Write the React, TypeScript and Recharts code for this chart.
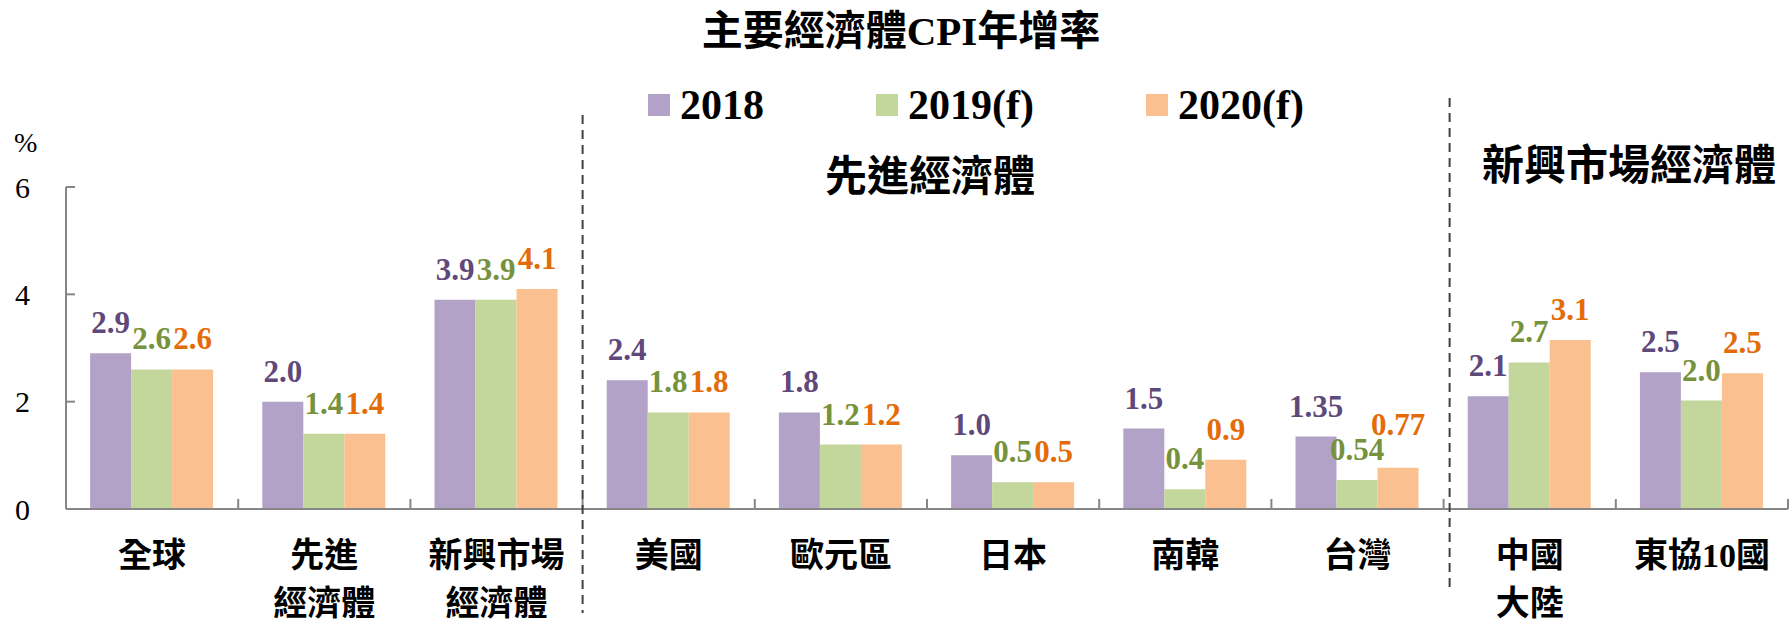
import React from 'react';
import { BarChart, Bar, XAxis, YAxis, LabelList } from 'recharts';

const categories = ['全球', '先進\n經濟體', '新興市場\n經濟體', '美國', '歐元區', '日本', '南韓', '台灣', '中國\n大陸', '東協10國'];
const v2018 = [2.9, 2.0, 3.9, 2.4, 1.8, 1.0, 1.5, 1.35, 2.1, 2.55];
const v2019 = [2.6, 1.4, 3.9, 1.8, 1.2, 0.5, 0.37, 0.54, 2.73, 2.02];
const v2020 = [2.6, 1.4, 4.1, 1.8, 1.2, 0.5, 0.92, 0.77, 3.15, 2.53];
const l2018 = ['2.9', '2.0', '3.9', '2.4', '1.8', '1.0', '1.5', '1.35', '2.1', '2.5'];
const l2019 = ['2.6', '1.4', '3.9', '1.8', '1.2', '0.5', '0.4', '0.54', '2.7', '2.0'];
const l2020 = ['2.6', '1.4', '4.1', '1.8', '1.2', '0.5', '0.9', '0.77', '3.1', '2.5'];
const seriesNames = ['2018', '2019(f)', '2020(f)'];
const yTicks = [0, 2, 4, 6];
const titleText = '主要經濟體CPI年增率';
const unitText = '%';
const groupTitles = ['先進經濟體', '新興市場經濟體'];
// index of category after which a dashed divider is drawn
const dividerAfter = [2, 7];

const W = 1789;
const H = 620;
const PLOT_LEFT = 66;
const PLOT_RIGHT_MARGIN = 1;
const PLOT_TOP = 187;
const PLOT_BOTTOM = 509;
const BAND = (W - PLOT_LEFT - PLOT_RIGHT_MARGIN) / categories.length;
const DIVIDER_SPANS = [
  [115, 613],
  [98, 592],
];
const DIVIDER_SHIFT = [0, 6];
const LABEL_OFFSET = 20;
// extra upward shift (px) of the 2020 label for the Taiwan group (index 7) to avoid overlap
const LIFT_2020_INDEX = 7;
const LIFT_2020_PX = 13;

const FONT = "'Liberation Serif', 'Noto Sans CJK TC', serif";
const FILL = ['#B3A2C7', '#C3D69B', '#FAC090'];
const LABEL_COLORS = ['#5F497A', '#76923C', '#E36C09'];
const AXIS = '#868686';

const data = categories.map((name, i) => ({
  name,
  a: v2018[i],
  b: v2019[i],
  c: v2020[i],
  la: l2018[i],
  lb: l2019[i],
  lc: l2020[i],
}));

const XTick = (props: any) => {
  const { x, y, payload, index } = props;
  const lines = String(payload.value).split('\n');
  const dIdx = dividerAfter.indexOf(index);
  const bx = x + BAND / 2;
  return (
    <g>
      <line x1={bx} x2={bx} y1={y} y2={y - 10} stroke={AXIS} strokeWidth={2} />
      {dIdx >= 0 && (
        <line
          x1={bx + DIVIDER_SHIFT[dIdx]}
          x2={bx + DIVIDER_SHIFT[dIdx]}
          y1={DIVIDER_SPANS[dIdx][0]}
          y2={DIVIDER_SPANS[dIdx][1]}
          stroke="#404040"
          strokeWidth={2}
          strokeDasharray="9 6"
        />
      )}
      {lines.map((t: string, i: number) => (
        <text
          key={i}
          x={x}
          y={y + 46 + i * 48}
          textAnchor="middle"
          dominantBaseline="central"
          fontFamily={FONT}
          fontWeight={700}
          fontSize={34}
          fill="#000"
        >
          {t}
        </text>
      ))}
    </g>
  );
};

const YTick = (props: any) => {
  const { x, y, payload } = props;
  return (
    <g>
      <text x={x} y={y} textAnchor="end" dominantBaseline="central" fontFamily={FONT} fontSize={30} fill="#000">
        {payload.value}
      </text>
      {payload.value !== 0 && (
        <line x1={PLOT_LEFT} x2={PLOT_LEFT + 9} y1={y} y2={y} stroke={AXIS} strokeWidth={2} />
      )}
    </g>
  );
};

const makeLabel = (color: string, liftIndex = -1, liftPx = 0) => (props: any) => {
  const { x, y, width, value, index } = props;
  const lift = index === liftIndex ? liftPx : 0;
  return (
    <text
      x={Number(x) + Number(width) / 2}
      y={Number(y) - LABEL_OFFSET - lift}
      textAnchor="middle"
      fontFamily={FONT}
      fontWeight={700}
      fontSize={31}
      fill={color}
    >
      {value}
    </text>
  );
};

const LegendBox = () => (
  <div
    style={{
      position: 'absolute',
      left: 648,
      top: 84,
      display: 'flex',
      alignItems: 'center',
      fontFamily: FONT,
      fontWeight: 700,
      fontSize: 42,
      lineHeight: 1,
    }}
  >
    {seriesNames.map((n, i) => (
      <div key={n} style={{ display: 'flex', alignItems: 'center', marginRight: i < seriesNames.length - 1 ? 112 : 0 }}>
        <div style={{ width: 22, height: 22, background: FILL[i], marginRight: 10 }} />
        <span style={{ color: '#000' }}>{n}</span>
      </div>
    ))}
  </div>
);

const overlayText = (text: string, cx: number, cy: number, size: number, bold = true) => (
  <div
    style={{
      position: 'absolute',
      left: cx - 400,
      top: cy - size / 2,
      width: 800,
      textAlign: 'center',
      fontFamily: FONT,
      fontWeight: bold ? 700 : 400,
      fontSize: size,
      lineHeight: 1,
      color: '#000',
      whiteSpace: 'nowrap',
      pointerEvents: 'none',
    }}
  >
    {text}
  </div>
);

export default function App() {
  return (
    <div style={{ position: 'absolute', left: 0, top: 0, width: W, height: H, background: '#fff', overflow: 'hidden' }}>
      <BarChart
        width={W}
        height={H}
        data={data}
        margin={{ top: PLOT_TOP, right: PLOT_RIGHT_MARGIN, left: 0, bottom: 0 }}
        barCategoryGap="14%"
        barGap={0}
      >
        <XAxis
          dataKey="name"
          height={H - PLOT_BOTTOM}
          interval={0}
          tickLine={false}
          tickSize={0}
          tickMargin={0}
          axisLine={{ stroke: AXIS, strokeWidth: 2 }}
          tick={<XTick />}
        />
        <YAxis
          width={PLOT_LEFT}
          domain={[0, 6]}
          ticks={yTicks}
          tickLine={false}
          tickSize={0}
          tickMargin={36}
          axisLine={{ stroke: AXIS, strokeWidth: 2 }}
          tick={<YTick />}
        />
        <Bar dataKey="a" name={seriesNames[0]} fill={FILL[0]} isAnimationActive={false}>
          <LabelList dataKey="la" content={makeLabel(LABEL_COLORS[0])} />
        </Bar>
        <Bar dataKey="b" name={seriesNames[1]} fill={FILL[1]} isAnimationActive={false}>
          <LabelList dataKey="lb" content={makeLabel(LABEL_COLORS[1])} />
        </Bar>
        <Bar dataKey="c" name={seriesNames[2]} fill={FILL[2]} isAnimationActive={false}>
          <LabelList dataKey="lc" content={makeLabel(LABEL_COLORS[2], LIFT_2020_INDEX, LIFT_2020_PX)} />
        </Bar>
      </BarChart>
      <LegendBox />
      {overlayText(titleText, 901, 31, 41)}
      {overlayText(groupTitles[0], 930, 177, 42)}
      {overlayText(groupTitles[1], 1629, 166, 42)}
      <div style={{ position: 'absolute', left: 14, top: 129, fontFamily: FONT, fontSize: 28, lineHeight: 1 }}>{unitText}</div>
    </div>
  );
}
